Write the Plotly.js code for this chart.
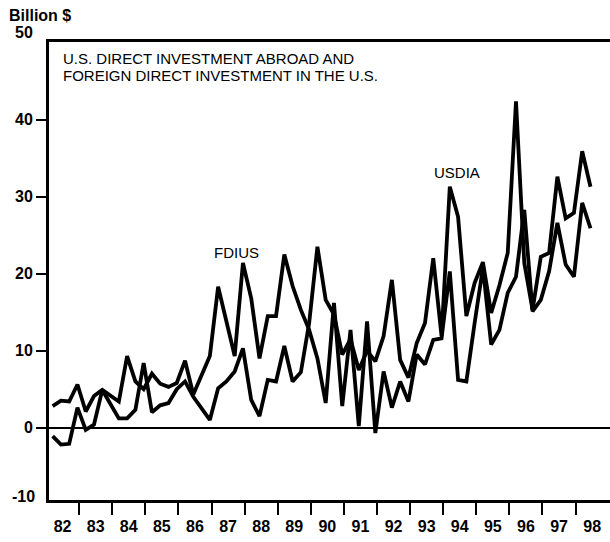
<!DOCTYPE html>
<html>
<head>
<meta charset="utf-8">
<script src="https://cdn.plot.ly/plotly-3.0.1.min.js"></script>
<style>html,body{margin:0;padding:0;background:#fff;}#chart{width:610px;height:542px;}</style>
</head>
<body>
<div id="chart"></div>
<script>
// Quarterly data, 1982Q1 - 1998Q2 (billion $)
const startYear = 1982;
const yearLabels = ['82','83','84','85','86','87','88','89','90','91','92','93','94','95','96','97','98'];
const yTicks = [0, 10, 20, 30, 40];

const fdius = [
  2.8, 3.5, 3.4, 5.6,    // 1982
  2.1, 4.1, 4.9, 4.2,    // 1983
  3.4, 9.3, 6.0, 5.0,    // 1984
  7.0, 5.7, 5.3, 5.8,    // 1985
  8.7, 4.3, 6.8, 9.3,    // 1986
  18.3, 13.8, 9.3, 21.4, // 1987
  16.8, 9.0, 14.5, 14.5, // 1988
  22.5, 18.4, 15.3, 12.7,// 1989
  9.0, 3.2, 16.2, 2.8,   // 1990
  12.7, 0.2, 13.8, -0.7, // 1991
  7.3, 2.6, 6.0, 3.4,    // 1992
  9.5, 8.2, 11.4, 11.6,  // 1993
  20.3, 6.2, 6.0, 13.6,  // 1994
  20.8, 10.8, 12.7, 17.5,// 1995
  19.6, 28.3, 15.1, 16.6,// 1996
  20.3, 26.6, 21.2, 19.6,// 1997
  29.2, 25.9             // 1998
];

const usdia = [
  -1.1, -2.2, -2.1, 2.6, // 1982
  -0.3, 0.4, 4.9, 3.0,   // 1983
  1.2, 1.2, 2.3, 8.4,    // 1984
  2.0, 2.9, 3.2, 5.0,    // 1985
  6.0, 4.0, 2.5, 1.0,    // 1986
  5.1, 6.0, 7.3, 10.3,   // 1987
  3.6, 1.5, 6.2, 6.0,    // 1988
  10.6, 6.0, 7.2, 13.6,  // 1989
  23.5, 16.6, 14.7, 9.5, // 1990
  11.5, 7.5, 10.0, 8.6,  // 1991
  11.9, 19.2, 8.8, 6.5,  // 1992
  11.0, 13.6, 22.0, 11.9,// 1993
  31.3, 27.4, 14.5, 18.8,// 1994
  21.5, 14.9, 18.5, 22.7,// 1995
  42.4, 21.4, 15.3, 22.2,// 1996
  22.7, 32.6, 27.2, 27.9,// 1997
  35.9, 31.3             // 1998
];

// x position of each quarter, in years
const qx = fdius.map((_, i) => startYear + Math.floor(i / 4) + (i % 4) / 4 + 0.2);

const yearMid = yearLabels.map((_, k) => startYear + k + 0.5);
const yearBounds = yearLabels.slice(1).map((_, k) => startYear + k + 1);

const lineStyle = {color: '#000', width: 3.8};
const traces = [
  {x: qx, y: fdius, type: 'scatter', mode: 'lines', name: 'FDIUS', line: lineStyle, hoverinfo: 'skip'},
  {x: qx, y: usdia, type: 'scatter', mode: 'lines', name: 'USDIA', line: lineStyle, hoverinfo: 'skip'}
];

const fontFam = '"Liberation Sans", Arial, Helvetica, sans-serif';
const layout = {
  width: 610, height: 542,
  margin: {l: 49, r: 0, t: 42, b: 42},
  paper_bgcolor: '#fff', plot_bgcolor: '#fff',
  showlegend: false,
  xaxis: {
    range: [1982.09, 1999.04],
    showgrid: false, zeroline: false,
    showline: true, linewidth: 3, linecolor: '#000', mirror: true,
    tickmode: 'array', tickvals: yearMid, ticktext: yearLabels,
    ticks: 'outside', ticklen: 10, tickcolor: 'rgba(0,0,0,0)',
    tickfont: {family: fontFam, size: 16, weight: 'bold', color: '#000'},
    minor: {tickmode: 'array', tickvals: yearBounds, ticks: 'outside', ticklen: 12, tickwidth: 2, tickcolor: '#000', showgrid: false}
  },
  yaxis: {
    range: [-9.4, 50.1],
    showgrid: false,
    zeroline: true, zerolinewidth: 2, zerolinecolor: '#000',
    showline: true, linewidth: 3, linecolor: '#000', mirror: false,
    tickmode: 'array', tickvals: yTicks,
    ticks: 'outside', ticklen: 10, tickwidth: 2, tickcolor: '#000',
    tickfont: {family: fontFam, size: 16, weight: 'bold', color: '#000'}
  },
  annotations: [
    {xref: 'paper', yref: 'paper', x: -0.075, y: 1.057, xanchor: 'left', yanchor: 'middle', showarrow: false,
     text: 'Billion $', font: {family: fontFam, size: 16, weight: 'bold', color: '#000'}},
    {xref: 'paper', yref: 'paper', x: -0.025, y: 1.0197, xanchor: 'right', yanchor: 'middle', showarrow: false,
     text: '50', font: {family: fontFam, size: 16, weight: 'bold', color: '#000'}},
    {xref: 'paper', yref: 'paper', x: -0.022, y: 0.0066, xanchor: 'right', yanchor: 'middle', showarrow: false,
     text: '-10', font: {family: fontFam, size: 16, weight: 'bold', color: '#000'}},
    {xref: 'paper', yref: 'paper', x: 0.021, y: 0.965, xanchor: 'left', yanchor: 'middle', showarrow: false,
     text: 'U.S. DIRECT INVESTMENT ABROAD AND', font: {family: fontFam, size: 15, color: '#000'}},
    {xref: 'paper', yref: 'paper', x: 0.021, y: 0.926, xanchor: 'left', yanchor: 'middle', showarrow: false,
     text: 'FOREIGN DIRECT INVESTMENT IN THE U.S.', font: {family: fontFam, size: 15, color: '#000'}},
    {xref: 'x', yref: 'y', x: 1987.74, y: 22.7, xanchor: 'center', yanchor: 'middle', showarrow: false,
     text: 'FDIUS', font: {family: fontFam, size: 15, color: '#000'}},
    {xref: 'x', yref: 'y', x: 1994.42, y: 33.2, xanchor: 'center', yanchor: 'middle', showarrow: false,
     text: 'USDIA', font: {family: fontFam, size: 15, color: '#000'}}
  ]
};

Plotly.newPlot('chart', traces, layout, {staticPlot: true, displayModeBar: false});
</script>
</body>
</html>
